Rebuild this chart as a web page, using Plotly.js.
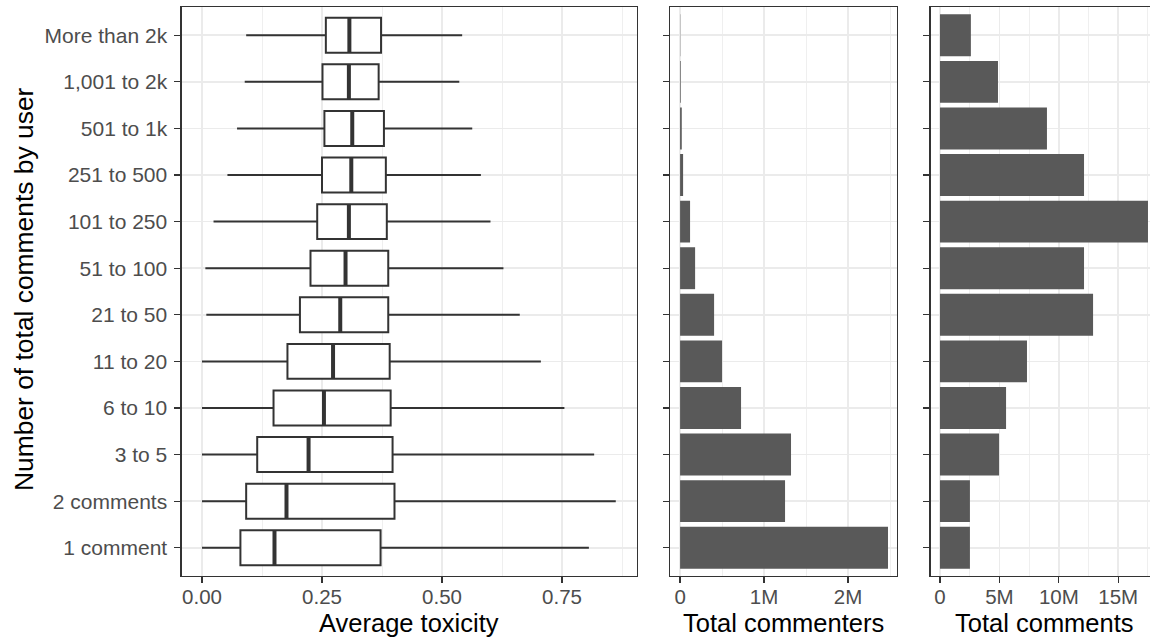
<!DOCTYPE html>
<html>
<head>
<meta charset="utf-8">
<script src="https://cdn.plot.ly/plotly-3.0.1.min.js"></script>
<style>
html, body { margin: 0; padding: 0; background: #ffffff; overflow: hidden; }
#chart { width: 1150px; height: 639px; }
</style>
</head>
<body>
<div id="chart"></div>
<script>
// Categories (bottom to top)
const categories = ['1 comment', '2 comments', '3 to 5', '6 to 10', '11 to 20', '21 to 50',
  '51 to 100', '101 to 250', '251 to 500', '501 to 1k', '1,001 to 2k', 'More than 2k'];

// Box statistics of average toxicity per group
const toxLower  = [0.000, 0.000, 0.000, 0.000, 0.000, 0.009, 0.007, 0.024, 0.053, 0.073, 0.089, 0.092];
const toxQ1     = [0.080, 0.092, 0.115, 0.149, 0.178, 0.204, 0.226, 0.240, 0.250, 0.255, 0.251, 0.258];
const toxMedian = [0.151, 0.176, 0.222, 0.254, 0.273, 0.288, 0.299, 0.306, 0.311, 0.313, 0.306, 0.307];
const toxQ3     = [0.372, 0.401, 0.397, 0.393, 0.391, 0.388, 0.388, 0.385, 0.383, 0.379, 0.368, 0.373];
const toxUpper  = [0.806, 0.862, 0.817, 0.755, 0.706, 0.662, 0.628, 0.601, 0.581, 0.563, 0.536, 0.542];

// Totals
const totalCommenters = [2476000, 1250000, 1321000, 726000, 500000, 405000, 179000, 119000, 36000, 20000, 8000, 3000];
const totalComments   = [2520000, 2520000, 4970000, 5560000, 7320000, 12880000, 12120000, 17500000, 12120000, 9000000, 4880000, 2600000];

// Axis labels
const xTitles = ['Average toxicity', 'Total commenters', 'Total comments'];
const yTitle = 'Number of total comments by user';

const W = 1150, H = 639;
const FONT = 'Liberation Sans, Arial, Helvetica, sans-serif';
const INK = '#333333';
const GRID = '#EBEBEB';

const yDom = [(H - 575.7) / H, (H - 7.3) / H];
const p1 = [181.7, 636.7], p2 = [670, 897], p3 = [930.7, 1150];

function xAxis(domPx, range, dtick, minorDtick, fmt) {
  return {
    domain: [domPx[0] / W, domPx[1] / W],
    range: range,
    tickmode: 'linear', tick0: 0, dtick: dtick,
    tickformat: fmt,
    showgrid: true, gridcolor: GRID, gridwidth: 1.6,
    minor: { tickmode: 'linear', tick0: 0, dtick: minorDtick, showgrid: true, gridcolor: GRID, gridwidth: 0.8, ticks: '' },
    zeroline: false,
    showline: true, linecolor: INK, linewidth: 1.3, mirror: true,
    ticks: 'outside', ticklen: 6, tickwidth: 1.3, tickcolor: INK,
    ticklabelstandoff: -4,
    tickfont: { family: FONT, size: 20.5, color: '#4D4D4D' },
    fixedrange: true
  };
}
function yAxis(showLabels, mirror) {
  return {
    domain: yDom,
    type: 'category',
    categoryorder: 'array', categoryarray: categories,
    range: [-0.6, categories.length - 0.4],
    showgrid: true, gridcolor: GRID, gridwidth: 1.6,
    zeroline: false,
    showline: true, linecolor: INK, linewidth: 1.3, mirror: mirror,
    ticks: 'outside', ticklen: 6, tickwidth: 1.3, tickcolor: INK,
    showticklabels: showLabels,
    ticklabelstandoff: 3,
    tickfont: { family: FONT, size: 21, color: '#4D4D4D' },
    fixedrange: true
  };
}

const traces = [
  {
    type: 'box', orientation: 'h', y: categories,
    q1: toxQ1, median: toxMedian, q3: toxQ3, lowerfence: toxLower, upperfence: toxUpper,
    xaxis: 'x', yaxis: 'y',
    fillcolor: '#ffffff', line: { color: INK, width: 2 },
    whiskerwidth: 0, boxpoints: false, hoverinfo: 'skip', showlegend: false
  },
  {
    type: 'scatter', mode: 'markers', x: toxMedian, y: categories,
    xaxis: 'x', yaxis: 'y',
    marker: { symbol: 'line-ns', size: 25, color: INK, line: { color: INK, width: 4 } },
    hoverinfo: 'skip', showlegend: false
  },
  {
    type: 'bar', orientation: 'h', x: totalCommenters, y: categories,
    xaxis: 'x2', yaxis: 'y2', marker: { color: '#595959' },
    hoverinfo: 'skip', showlegend: false
  },
  {
    type: 'bar', orientation: 'h', x: totalComments, y: categories,
    xaxis: 'x3', yaxis: 'y3', marker: { color: '#595959' },
    hoverinfo: 'skip', showlegend: false
  }
];

const titleFont = { family: FONT, size: 25.5, color: '#000000' };
const layout = {
  width: W, height: H,
  margin: { l: 0, r: 0, t: 0, b: 0 },
  paper_bgcolor: '#ffffff', plot_bgcolor: '#ffffff',
  showlegend: false,
  boxgap: 0.25, boxgroupgap: 0, boxmode: 'overlay',
  bargap: 0.1,
  font: { family: FONT },
  xaxis: xAxis(p1, [-0.0423, 0.9056], 0.25, 0.125, '.2f'),
  xaxis2: Object.assign(xAxis(p2, [-0.12e6, 2.583e6], 1e6, 0.5e6, '~s'), { anchor: 'y2' }),
  xaxis3: Object.assign(xAxis(p3, [-0.78e6, 17.67e6], 5e6, 2.5e6, '~s'), { anchor: 'y3' }),
  yaxis: yAxis(true, true),
  yaxis2: Object.assign(yAxis(false, true), { anchor: 'x2' }),
  yaxis3: Object.assign(yAxis(false, false), { anchor: 'x3' }),
  annotations: [
    { text: xTitles[0], xref: 'paper', yref: 'paper', x: (p1[0] + p1[1]) / 2 / W, y: (H - 623) / H,
      xanchor: 'center', yanchor: 'middle', showarrow: false, font: titleFont },
    { text: xTitles[1], xref: 'paper', yref: 'paper', x: (p2[0] + p2[1]) / 2 / W, y: (H - 623) / H,
      xanchor: 'center', yanchor: 'middle', showarrow: false, font: titleFont },
    { text: xTitles[2], xref: 'paper', yref: 'paper', x: 1044.6 / W, y: (H - 623) / H,
      xanchor: 'center', yanchor: 'middle', showarrow: false, font: titleFont },
    { text: yTitle, xref: 'paper', yref: 'paper', x: 24 / W, y: (H - 289) / H, textangle: -90,
      xanchor: 'center', yanchor: 'middle', showarrow: false, font: { family: FONT, size: 26.4, color: '#000000' } }
  ]
};

Plotly.newPlot('chart', traces, layout, { displayModeBar: false, staticPlot: true });
</script>
</body>
</html>
